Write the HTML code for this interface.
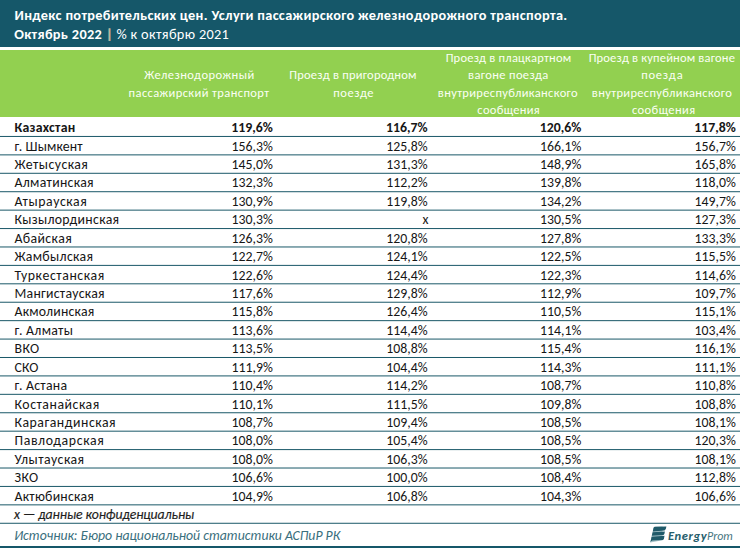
<!DOCTYPE html>
<html lang="ru"><head><meta charset="utf-8"><title>Индекс потребительских цен</title><style>
html,body{margin:0;padding:0}
body{width:740px;height:548px;overflow:hidden;position:relative;background:#fff;font-family:Carlito, "Liberation Sans", sans-serif}
.t{position:absolute;white-space:nowrap;line-height:20px;height:20px}
.r{text-align:right}
.c{text-align:center}
#title{position:absolute;left:0;top:0;width:740px;height:46.75px;background:#155769}
#hdr{position:absolute;left:0;top:49.5px;width:740px;height:67.5px;background:#92d050}
#bar{position:absolute;left:0;top:545.7px;width:740px;height:3px;background:#155769}
.w{color:#fff;font-size:14.3px}
.h{color:#fafff4;font-size:12.5px}
.n{color:#161616;font-size:13.8px}
.v{color:#161616;font-size:13.8px}
.b{font-weight:bold}
.i{font-style:italic}

</style></head><body>
<div id="title"></div><div id="hdr"></div><div id="bar"></div>
<svg style="position:absolute;left:0;top:0" width="740" height="548" aria-hidden="true">
<rect x="0" y="135.95" width="740" height="1" fill="#1a5868"/>
<rect x="0" y="154.37" width="740" height="1" fill="#1a5868"/>
<rect x="0" y="172.79" width="740" height="1" fill="#1a5868"/>
<rect x="0" y="191.21" width="740" height="1" fill="#1a5868"/>
<rect x="0" y="209.63" width="740" height="1" fill="#1a5868"/>
<rect x="0" y="228.05" width="740" height="1" fill="#1a5868"/>
<rect x="0" y="246.47" width="740" height="1" fill="#1a5868"/>
<rect x="0" y="264.89" width="740" height="1" fill="#1a5868"/>
<rect x="0" y="283.31" width="740" height="1" fill="#1a5868"/>
<rect x="0" y="301.73" width="740" height="1" fill="#1a5868"/>
<rect x="0" y="320.15" width="740" height="1" fill="#1a5868"/>
<rect x="0" y="338.57" width="740" height="1" fill="#1a5868"/>
<rect x="0" y="356.99" width="740" height="1" fill="#1a5868"/>
<rect x="0" y="375.41" width="740" height="1" fill="#1a5868"/>
<rect x="0" y="393.83" width="740" height="1" fill="#1a5868"/>
<rect x="0" y="412.25" width="740" height="1" fill="#1a5868"/>
<rect x="0" y="430.67" width="740" height="1" fill="#1a5868"/>
<rect x="0" y="449.09" width="740" height="1" fill="#1a5868"/>
<rect x="0" y="467.51" width="740" height="1" fill="#1a5868"/>
<rect x="0" y="485.93" width="740" height="1" fill="#1a5868"/>
<rect x="0" y="504.35" width="740" height="1" fill="#1a5868"/>
<rect x="0" y="522.77" width="740" height="1" fill="#1a5868"/>
</svg>
<div class="t w b" style="left:14.5px;top:4.60px;letter-spacing:0.329px">Индекс потребительских цен. Услуги пассажирского железнодорожного транспорта.</div>
<div class="t w" style="left:14.2px;top:24.30px;letter-spacing:0.333px"><b>Октябрь 2022</b> <span style="color:#bdb49c;font-weight:bold;text-shadow:0.6px 0 0 #bdb49c">|</span> % к октябрю 2021</div>
<div class="t h c" style="left:99.20px;width:200px;top:65.40px;letter-spacing:0.471px;text-indent:0.471px">Железнодорожный</div>
<div class="t h c" style="left:98.90px;width:200px;top:82.60px;letter-spacing:0.400px;text-indent:0.400px">пассажирский транспорт</div>
<div class="t h c" style="left:252.90px;width:200px;top:65.40px;letter-spacing:0.221px;text-indent:0.221px">Проезд в пригородном</div>
<div class="t h c" style="left:253.40px;width:200px;top:82.60px;letter-spacing:0.560px;text-indent:0.560px">поезде</div>
<div class="t h c" style="left:408.40px;width:200px;top:48.20px;letter-spacing:0.221px;text-indent:0.221px">Проезд в плацкартном</div>
<div class="t h c" style="left:408.20px;width:200px;top:65.40px;letter-spacing:0.350px;text-indent:0.350px">вагоне поезда</div>
<div class="t h c" style="left:407.80px;width:200px;top:82.60px;letter-spacing:0.333px;text-indent:0.333px">внутриреспубликанского</div>
<div class="t h c" style="left:408.50px;width:200px;top:99.80px;letter-spacing:0.300px;text-indent:0.300px">сообщения</div>
<div class="t h c" style="left:561.80px;width:200px;top:48.20px;letter-spacing:0.183px;text-indent:0.183px">Проезд в купейном вагоне</div>
<div class="t h c" style="left:561.90px;width:200px;top:65.40px;letter-spacing:0.800px;text-indent:0.800px">поезда</div>
<div class="t h c" style="left:561.90px;width:200px;top:82.60px;letter-spacing:0.343px;text-indent:0.343px">внутриреспубликанского</div>
<div class="t h c" style="left:563.50px;width:200px;top:99.80px;letter-spacing:0.400px;text-indent:0.400px">сообщения</div>
<div class="t n b" style="left:14.5px;top:118.20px;letter-spacing:0.250px">Казахстан</div>
<div class="t v r b" style="left:192.80px;width:80px;top:118.20px">119,6%</div>
<div class="t v r b" style="left:347.60px;width:80px;top:118.20px">116,7%</div>
<div class="t v r b" style="left:501.40px;width:80px;top:118.20px">120,6%</div>
<div class="t v r b" style="left:655.90px;width:80px;top:118.20px">117,8%</div>
<div class="t n" style="left:14.5px;top:136.62px;letter-spacing:0.111px">г. Шымкент</div>
<div class="t v r" style="left:192.80px;width:80px;top:136.62px">156,3%</div>
<div class="t v r" style="left:347.60px;width:80px;top:136.62px">125,8%</div>
<div class="t v r" style="left:501.40px;width:80px;top:136.62px">166,1%</div>
<div class="t v r" style="left:655.90px;width:80px;top:136.62px">156,7%</div>
<div class="t n" style="left:14.5px;top:155.04px;letter-spacing:0.444px">Жетысуская</div>
<div class="t v r" style="left:192.80px;width:80px;top:155.04px">145,0%</div>
<div class="t v r" style="left:347.60px;width:80px;top:155.04px">131,3%</div>
<div class="t v r" style="left:501.40px;width:80px;top:155.04px">148,9%</div>
<div class="t v r" style="left:655.90px;width:80px;top:155.04px">165,8%</div>
<div class="t n" style="left:14.5px;top:173.46px;letter-spacing:0.280px">Алматинская</div>
<div class="t v r" style="left:192.80px;width:80px;top:173.46px">132,3%</div>
<div class="t v r" style="left:347.60px;width:80px;top:173.46px">112,2%</div>
<div class="t v r" style="left:501.40px;width:80px;top:173.46px">139,8%</div>
<div class="t v r" style="left:655.90px;width:80px;top:173.46px">118,0%</div>
<div class="t n" style="left:14.5px;top:191.88px;letter-spacing:0.578px">Атырауская</div>
<div class="t v r" style="left:192.80px;width:80px;top:191.88px">130,9%</div>
<div class="t v r" style="left:347.60px;width:80px;top:191.88px">119,8%</div>
<div class="t v r" style="left:501.40px;width:80px;top:191.88px">134,2%</div>
<div class="t v r" style="left:655.90px;width:80px;top:191.88px">149,7%</div>
<div class="t n" style="left:14.5px;top:210.30px;letter-spacing:0.308px">Кызылординская</div>
<div class="t v r" style="left:192.80px;width:80px;top:210.30px">130,3%</div>
<div class="t v r" style="left:348.40px;width:80px;top:210.30px">x</div>
<div class="t v r" style="left:501.40px;width:80px;top:210.30px">130,5%</div>
<div class="t v r" style="left:655.90px;width:80px;top:210.30px">127,3%</div>
<div class="t n" style="left:14.5px;top:228.72px;letter-spacing:0.400px">Абайская</div>
<div class="t v r" style="left:192.80px;width:80px;top:228.72px">126,3%</div>
<div class="t v r" style="left:347.60px;width:80px;top:228.72px">120,8%</div>
<div class="t v r" style="left:501.40px;width:80px;top:228.72px">127,8%</div>
<div class="t v r" style="left:655.90px;width:80px;top:228.72px">133,3%</div>
<div class="t n" style="left:14.5px;top:247.14px;letter-spacing:0.311px">Жамбылская</div>
<div class="t v r" style="left:192.80px;width:80px;top:247.14px">122,7%</div>
<div class="t v r" style="left:347.60px;width:80px;top:247.14px">124,1%</div>
<div class="t v r" style="left:501.40px;width:80px;top:247.14px">122,5%</div>
<div class="t v r" style="left:655.90px;width:80px;top:247.14px">115,5%</div>
<div class="t n" style="left:14.5px;top:265.56px;letter-spacing:0.583px">Туркестанская</div>
<div class="t v r" style="left:192.80px;width:80px;top:265.56px">122,6%</div>
<div class="t v r" style="left:347.60px;width:80px;top:265.56px">124,4%</div>
<div class="t v r" style="left:501.40px;width:80px;top:265.56px">122,3%</div>
<div class="t v r" style="left:655.90px;width:80px;top:265.56px">114,6%</div>
<div class="t n" style="left:14.5px;top:283.98px;letter-spacing:0.250px">Мангистауская</div>
<div class="t v r" style="left:192.80px;width:80px;top:283.98px">117,6%</div>
<div class="t v r" style="left:347.60px;width:80px;top:283.98px">129,8%</div>
<div class="t v r" style="left:501.40px;width:80px;top:283.98px">112,9%</div>
<div class="t v r" style="left:655.90px;width:80px;top:283.98px">109,7%</div>
<div class="t n" style="left:14.5px;top:302.40px;letter-spacing:0.200px">Акмолинская</div>
<div class="t v r" style="left:192.80px;width:80px;top:302.40px">115,8%</div>
<div class="t v r" style="left:347.60px;width:80px;top:302.40px">126,4%</div>
<div class="t v r" style="left:501.40px;width:80px;top:302.40px">110,5%</div>
<div class="t v r" style="left:655.90px;width:80px;top:302.40px">115,1%</div>
<div class="t n" style="left:14.5px;top:320.82px;letter-spacing:0.275px">г. Алматы</div>
<div class="t v r" style="left:192.80px;width:80px;top:320.82px">113,6%</div>
<div class="t v r" style="left:347.60px;width:80px;top:320.82px">114,4%</div>
<div class="t v r" style="left:501.40px;width:80px;top:320.82px">114,1%</div>
<div class="t v r" style="left:655.90px;width:80px;top:320.82px">103,4%</div>
<div class="t n" style="left:14.5px;top:339.24px;letter-spacing:0.400px">ВКО</div>
<div class="t v r" style="left:192.80px;width:80px;top:339.24px">113,5%</div>
<div class="t v r" style="left:347.60px;width:80px;top:339.24px">108,8%</div>
<div class="t v r" style="left:501.40px;width:80px;top:339.24px">115,4%</div>
<div class="t v r" style="left:655.90px;width:80px;top:339.24px">116,1%</div>
<div class="t n" style="left:14.5px;top:357.66px;letter-spacing:0.100px">СКО</div>
<div class="t v r" style="left:192.80px;width:80px;top:357.66px">111,9%</div>
<div class="t v r" style="left:347.60px;width:80px;top:357.66px">104,4%</div>
<div class="t v r" style="left:501.40px;width:80px;top:357.66px">114,3%</div>
<div class="t v r" style="left:655.90px;width:80px;top:357.66px">111,1%</div>
<div class="t n" style="left:14.5px;top:376.08px;letter-spacing:0.275px">г. Астана</div>
<div class="t v r" style="left:192.80px;width:80px;top:376.08px">110,4%</div>
<div class="t v r" style="left:347.60px;width:80px;top:376.08px">114,2%</div>
<div class="t v r" style="left:501.40px;width:80px;top:376.08px">108,7%</div>
<div class="t v r" style="left:655.90px;width:80px;top:376.08px">110,8%</div>
<div class="t n" style="left:14.5px;top:394.50px;letter-spacing:0.527px">Костанайская</div>
<div class="t v r" style="left:192.80px;width:80px;top:394.50px">110,1%</div>
<div class="t v r" style="left:347.60px;width:80px;top:394.50px">111,5%</div>
<div class="t v r" style="left:501.40px;width:80px;top:394.50px">109,8%</div>
<div class="t v r" style="left:655.90px;width:80px;top:394.50px">108,8%</div>
<div class="t n" style="left:14.5px;top:412.92px;letter-spacing:0.523px">Карагандинская</div>
<div class="t v r" style="left:192.80px;width:80px;top:412.92px">108,7%</div>
<div class="t v r" style="left:347.60px;width:80px;top:412.92px">109,4%</div>
<div class="t v r" style="left:501.40px;width:80px;top:412.92px">108,5%</div>
<div class="t v r" style="left:655.90px;width:80px;top:412.92px">108,1%</div>
<div class="t n" style="left:14.5px;top:431.34px;letter-spacing:0.636px">Павлодарская</div>
<div class="t v r" style="left:192.80px;width:80px;top:431.34px">108,0%</div>
<div class="t v r" style="left:347.60px;width:80px;top:431.34px">105,4%</div>
<div class="t v r" style="left:501.40px;width:80px;top:431.34px">108,5%</div>
<div class="t v r" style="left:655.90px;width:80px;top:431.34px">120,3%</div>
<div class="t n" style="left:14.5px;top:449.76px;letter-spacing:0.444px">Улытауская</div>
<div class="t v r" style="left:192.80px;width:80px;top:449.76px">108,0%</div>
<div class="t v r" style="left:347.60px;width:80px;top:449.76px">106,3%</div>
<div class="t v r" style="left:501.40px;width:80px;top:449.76px">108,5%</div>
<div class="t v r" style="left:655.90px;width:80px;top:449.76px">108,1%</div>
<div class="t n" style="left:14.5px;top:468.18px;letter-spacing:0.400px">ЗКО</div>
<div class="t v r" style="left:192.80px;width:80px;top:468.18px">106,6%</div>
<div class="t v r" style="left:347.60px;width:80px;top:468.18px">100,0%</div>
<div class="t v r" style="left:501.40px;width:80px;top:468.18px">108,4%</div>
<div class="t v r" style="left:655.90px;width:80px;top:468.18px">112,8%</div>
<div class="t n" style="left:14.5px;top:486.60px;letter-spacing:0.220px">Актюбинская</div>
<div class="t v r" style="left:192.80px;width:80px;top:486.60px">104,9%</div>
<div class="t v r" style="left:347.60px;width:80px;top:486.60px">106,8%</div>
<div class="t v r" style="left:501.40px;width:80px;top:486.60px">104,3%</div>
<div class="t v r" style="left:655.90px;width:80px;top:486.60px">106,6%</div>
<div class="t n i" style="left:14.0px;top:504.80px;color:#1e1e1e;-webkit-text-stroke:0.15px #1e1e1e;letter-spacing:-0.088px">x — данные конфиденциальны</div>
<div class="t n i" style="left:14.2px;top:526.00px;color:#3a6f7d;letter-spacing:-0.022px">Источник: Бюро национальной статистики АСПиР РК</div>
<svg style="position:absolute;left:648px;top:524px" width="22" height="20" viewBox="0 0 22 20" aria-hidden="true">
<path fill="#a7c3c9" d="M5.5,4.0 L6,2.7 L14.5,2.6 L14.5,16.2 L2.3,18.6 Z"/>
<path fill="#1f5a69" d="M5.5,4.0 Q5.9,2.7 7.6,2.7 L18.4,2.5 Q18.0,6.0 16.6,6.6 L4.8,7.4 Z"/>
<path fill="#1f5a69" d="M4.6,8.3 L16.9,7.4 Q16.6,10.5 15.5,10.9 L3.8,11.8 Z"/>
<path fill="#1f5a69" d="M3.6,12.7 L16.5,11.8 Q16.2,15.4 15.0,15.9 L4.4,16.6 Q3.0,17.0 2.3,18.6 Z"/>
</svg>
<div class="t" style="left:667.9px;top:525.9px;font-size:12px;font-style:italic;color:#265e6c"><span style="font-weight:bold;font-size:12.6px;letter-spacing:0.55px">Energy</span><span style="color:#47757f;letter-spacing:-0.1px">Prom</span></div>
</body></html>
